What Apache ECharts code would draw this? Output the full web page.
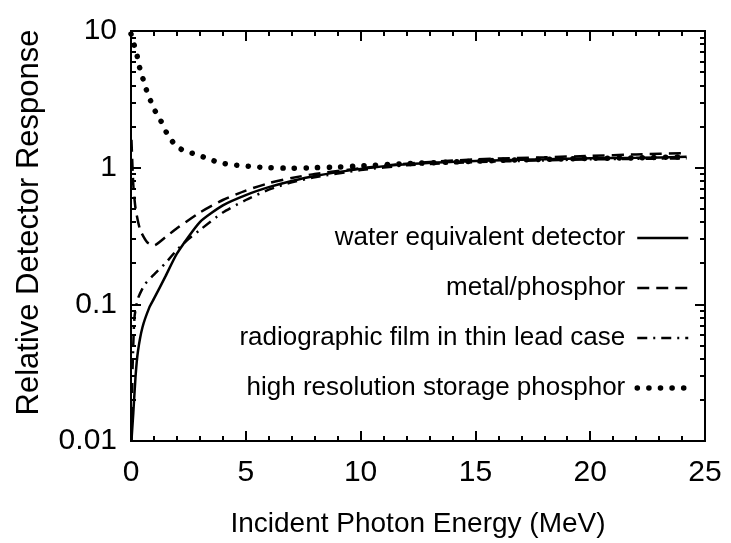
<!DOCTYPE html>
<html>
<head>
<meta charset="utf-8">
<script src="https://cdn.jsdelivr.net/npm/echarts@6/dist/echarts.min.js"></script>
<style>
html,body{margin:0;padding:0;background:#fff;}
#chart{width:731px;height:543px;}
</style>
</head>
<body>
<div id="chart"></div>
<script>
// Data
var seriesNames = ['water equivalent detector', 'metal/phosphor', 'radiographic film in thin lead case', 'high resolution storage phosphor'];

var waterE = [0.02, 0.05, 0.1, 0.2, 0.3, 0.5, 0.8, 1.0, 1.5, 2.0, 3.0, 4.0, 5.0, 6.0, 7.0, 8.0, 10, 12, 15, 18, 20, 22, 24.2];
var waterR = [0.01, 0.012, 0.016, 0.03, 0.045, 0.068, 0.095, 0.11, 0.16, 0.235, 0.40, 0.53, 0.63, 0.72, 0.80, 0.87, 0.98, 1.06, 1.12, 1.15, 1.17, 1.18, 1.20];

var metalE = [0.02, 0.1, 0.2, 0.4, 0.7, 1.0, 1.5, 2.0, 3.0, 4.0, 5.0, 6.0, 7.0, 8.0, 10, 12, 15, 18, 20, 22, 24.2];
var metalR = [1.6, 0.75, 0.5, 0.35, 0.285, 0.27, 0.31, 0.36, 0.47, 0.58, 0.68, 0.77, 0.84, 0.90, 0.99, 1.07, 1.15, 1.19, 1.22, 1.25, 1.28];

var filmE = [0.02, 0.06, 0.15, 0.3, 0.6, 1.0, 1.5, 2.0, 2.5, 3.0, 4.0, 5.0, 6.0, 7.0, 8.0, 10, 12, 15, 18, 20, 22, 24.2];
var filmR = [0.01, 0.03, 0.08, 0.11, 0.14, 0.165, 0.20, 0.25, 0.30, 0.35, 0.47, 0.58, 0.69, 0.78, 0.85, 0.96, 1.04, 1.10, 1.13, 1.15, 1.16, 1.17];

var hrE = [0.0, 0.1, 0.25, 0.35, 0.5, 0.65, 0.85, 1.05, 1.3, 1.55, 1.85, 2.2, 2.7, 3.2, 3.7, 4.2, 4.7, 5.2, 6, 7, 8, 9, 10, 12, 14, 16, 18, 20, 22, 24.2];
var hrR = [9.5, 8.3, 6.8, 5.6, 4.6, 3.8, 3.1, 2.6, 2.2, 1.8, 1.52, 1.36, 1.27, 1.19, 1.11, 1.06, 1.04, 1.02, 1.0, 0.99, 1.0, 1.01, 1.03, 1.07, 1.1, 1.13, 1.15, 1.17, 1.18, 1.2];

var xTicks = [0, 5, 10, 15, 20, 25];
var yMajor = [0.01, 0.1, 1, 10];
var yMinor = [0.02,0.03,0.04,0.05,0.06,0.07,0.08,0.09,0.2,0.3,0.4,0.5,0.6,0.7,0.8,0.9,2,3,4,5,6,7,8,9];

function zip(a, b) { return a.map(function (v, i) { return [v, b[i]]; }); }

var FONT = 'Liberation Sans, Arial, sans-serif';
var black = '#000';

var styles = [
  {color: black, width: 2.5, type: 'solid'},
  {color: black, width: 2.5, type: [12, 7]},
  {color: black, width: 2.5, type: [10, 6, 2, 6]},
  {color: black, width: 5.5, type: [0.1, 11.5], cap: 'round'}
];

var chart = echarts.init(document.getElementById('chart'), null, {renderer: 'canvas'});

function yAx(pos, major, showLabel) {
  return {
    type: 'log', logBase: 10, min: 0.01, max: 10, position: pos,
    axisLine: {show: true, onZero: false, lineStyle: {color: black, width: 2}},
    axisTick: {show: true, inside: true, length: major ? 10 : 5, lineStyle: {color: black, width: 2},
               customValues: major ? yMajor : yMinor},
    axisLabel: {show: showLabel, customValues: yMajor, fontFamily: FONT, fontSize: 30, color: black, margin: 14,
                formatter: function (v) { return String(v); }},
    splitLine: {show: false}, minorTick: {show: false},
    name: showLabel ? 'Relative Detector Response' : '',
    nameLocation: 'middle', nameGap: 86, nameRotate: 90,
    nameTextStyle: {fontFamily: FONT, fontSize: 31, color: black, padding: [0, 0, 0, 27]}
  };
}

function xAx(pos, showLabel) {
  return {
    type: 'value', min: 0, max: 25, interval: 5, position: pos,
    axisLine: {show: true, onZero: false, lineStyle: {color: black, width: 2}},
    axisTick: {show: true, inside: true, length: 10, lineStyle: {color: black, width: 2}},
    minorTick: {show: true, splitNumber: 5, length: 5, lineStyle: {color: black, width: 2}},
    axisLabel: {show: showLabel, fontFamily: FONT, fontSize: 30, color: black, margin: 17},
    splitLine: {show: false},
    name: showLabel ? 'Incident Photon Energy (MeV)' : '',
    nameLocation: 'middle', nameGap: 69,
    nameTextStyle: {fontFamily: FONT, fontSize: 28, color: black}
  };
}

var option = {
  animation: false,
  backgroundColor: '#fff',
  grid: {left: 131, right: 26, top: 31, bottom: 100, containLabel: false},
  xAxis: [xAx('bottom', true), xAx('top', false)],
  yAxis: [yAx('left', true, true), yAx('left', false, false), yAx('right', true, false), yAx('right', false, false)],
  legend: {
    orient: 'vertical', right: 35, top: 218, align: 'right',
    itemWidth: 51, itemHeight: 14, itemGap: 20,
    itemStyle: {opacity: 0},
    textStyle: {fontFamily: FONT, fontSize: 26, color: black, lineHeight: 30, padding: [0, 7, 0, 0]},
    data: seriesNames.map(function (n, i) { return {name: n, lineStyle: styles[i], itemStyle: {opacity: 0}}; }),
    selectedMode: false
  },
  series: seriesNames.map(function (n, i) {
    var E = [waterE, metalE, filmE, hrE][i];
    var R = [waterR, metalR, filmR, hrR][i];
    return {name: n, type: 'line', data: zip(E, R), symbol: 'none', smooth: 0.2,
            lineStyle: styles[i], itemStyle: {color: black}};
  })
};
chart.setOption(option);
</script>
</body>
</html>
